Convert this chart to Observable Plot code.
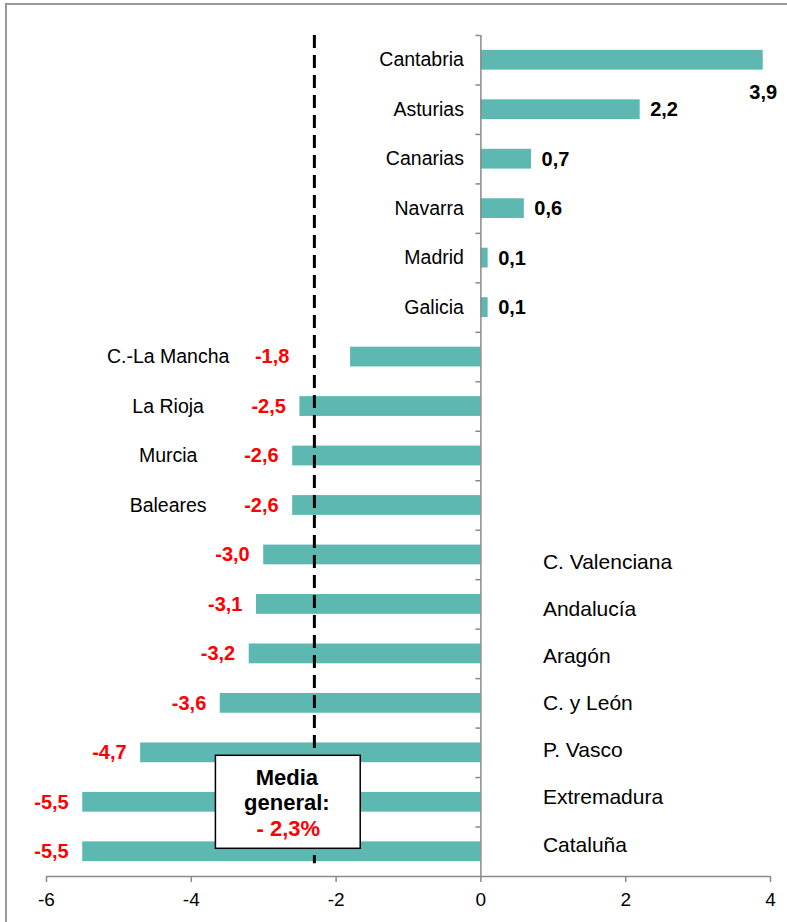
<!DOCTYPE html>
<html><head><meta charset="utf-8">
<script src="https://cdn.jsdelivr.net/npm/d3@7"></script>
<script src="https://cdn.jsdelivr.net/npm/@observablehq/plot@0.6"></script>
<style>
body{margin:0;background:#fff;}
#wrap{position:relative;width:787px;height:922px;overflow:hidden;background:#fff;}
#chart{position:absolute;left:0;top:0;}
#frame{position:absolute;left:5px;top:3px;width:900px;height:1000px;border-top:2px solid #9a9a9a;border-left:2px solid #9a9a9a;pointer-events:none;}
</style></head>
<body>
<div id="wrap"><div id="chart"></div><div id="frame"></div></div>
<script>
const regiones = ["Cantabria","Asturias","Canarias","Navarra","Madrid","Galicia","C.-La Mancha","La Rioja","Murcia","Baleares","C. Valenciana","Andalucía","Aragón","C. y León","P. Vasco","Extremadura","Cataluña"];
const valores = [3.9,2.2,0.7,0.6,0.1,0.1,-1.8,-2.5,-2.6,-2.6,-3.0,-3.1,-3.2,-3.6,-4.7,-5.5,-5.5];
const media = -2.3;
const mediaEtiqueta = ["Media","general:","- 2,3%"];
const xTicks = [-6,-4,-2,0,2,4];

const rows = regiones.map((r,i)=>({region:r, value:valores[i], i, label:valores[i].toFixed(1).replace(".",",")}));
const pos = rows.filter(d=>d.value>0);
const negA = rows.filter(d=>d.value<0 && d.value>-3);
const negB = rows.filter(d=>d.value<=-3);
const boundaries = d3.range(-0.5,16.5,1);
const FONT = "'Liberation Sans', Arial, Helvetica, sans-serif";
const teal = "#5DB8B2";
const red = "#FF0000";

const chart = Plot.plot({
  width:787, height:922,
  marginLeft:46, marginRight:17, marginTop:35, marginBottom:46,
  x:{domain:[-6,4], axis:null, label:null},
  y:{domain:[-0.5,16.5], reverse:true, axis:null, label:null},
  style:{fontFamily:FONT, background:"transparent", color:"#000", overflow:"visible"},
  marks:[
    Plot.rect(rows,{x1:0, x2:"value", y1:d=>d.i-0.2, y2:d=>d.i+0.2, fill:teal}),
    Plot.ruleX([0],{stroke:"#8a8a8a", strokeWidth:1.5}),
    Plot.ruleY(boundaries,{x1:0, x2:0, insetLeft:-5, stroke:"#8a8a8a", strokeWidth:1.5}),
    Plot.ruleY([16.5],{stroke:"#8a8a8a", strokeWidth:1.5}),
    Plot.axisX(xTicks,{anchor:"bottom", tickSize:6, tickPadding:10, fontSize:19, stroke:"#8a8a8a", strokeWidth:1.5, label:null, tickFormat:d=>String(d)}),
    Plot.ruleX([media],{y1:-0.5, y2:16.24, stroke:"#000", strokeWidth:3, strokeDasharray:"13,7"}),
    Plot.rect([media],{x1:d=>d-1.36, x2:d=>d+0.64, y1:14.06, y2:15.94, fill:"#fff", stroke:"#000", strokeWidth:1.5}),
    Plot.text(mediaEtiqueta.slice(0,2),{x:media-0.38, y:(d,i)=>14.5+i*0.515, text:d=>d, fontWeight:"bold", fontSize:22, fill:"#000"}),
    Plot.text(mediaEtiqueta.slice(2),{x:media-0.36, y:15.53, text:d=>d, fontWeight:"bold", fontSize:22, fill:red}),
    // category labels
    Plot.text(pos,{x:0, y:"i", text:"region", textAnchor:"end", dx:-17, fontSize:19.5, fill:"#000"}),
    Plot.text(negA,{x:-4.32, y:"i", text:"region", textAnchor:"middle", fontSize:19.5, fill:"#000"}),
    Plot.text(negB,{x:0, y:d=>13+(d.i-13)*0.954, text:"region", textAnchor:"start", dx:62, fontSize:21, fill:"#000"}),
    // value labels
    Plot.text(pos.filter(d=>d.value>=3),{x:"value", y:"i", text:"label", textAnchor:"middle", dy:32, fontWeight:"bold", fontSize:20, fill:"#000"}),
    Plot.text(pos.filter(d=>d.value<3),{x:"value", y:"i", text:"label", textAnchor:"start", dx:10, fontWeight:"bold", fontSize:20, fill:"#000"}),
    Plot.text(negA.filter(d=>d.value>media),{x:media, y:"i", text:"label", textAnchor:"end", dx:-25, fontWeight:"bold", fontSize:20, fill:red}),
    Plot.text(rows.filter(d=>d.value<=media),{x:"value", y:"i", text:"label", textAnchor:"end", dx:-14, fontWeight:"bold", fontSize:20, fill:red})
  ]
});
document.getElementById("chart").appendChild(chart);
</script>
</body></html>
